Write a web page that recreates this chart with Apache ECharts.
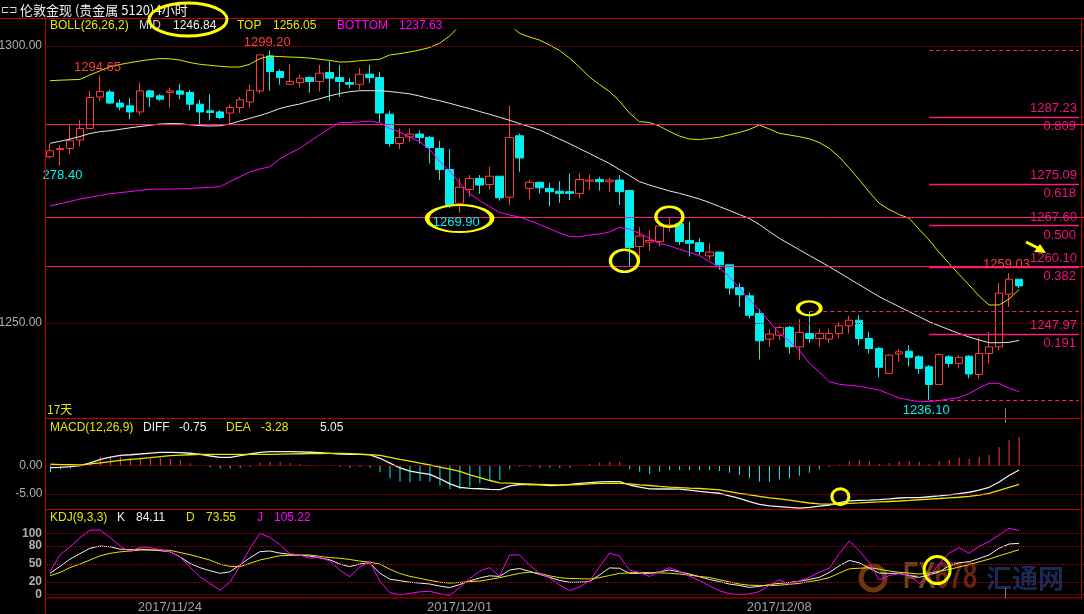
<!DOCTYPE html>
<html><head><meta charset="utf-8">
<script src="https://cdn.jsdelivr.net/npm/echarts@6/dist/echarts.min.js"></script>
<style>html,body{margin:0;padding:0;background:#000}#c{width:1084px;height:614px}</style>
</head><body><div id="c"></div>
<script>
// ---------- data ----------
const opens=[1280.0,1281.3,1281.5,1283.0,1285.1,1290.8,1291.7,1289.7,1289.2,1288.1,
1291.9,1291.0,1291.6,1291.9,1291.6,1289.5,1288.3,1288.1,1287.9,1288.9,
1289.9,1291.9,1298.2,1295.4,1293.1,1293.4,1294.3,1293.6,1295.2,1294.3,
1293.4,1293.1,1294.9,1294.3,1287.7,1282.4,1283.6,1284.1,1283.5,1281.5,
1277.7,1271.6,1274.1,1276.1,1275.0,1276.5,1272.7,1283.8,1274.3,1275.4,
1274.3,1273.8,1273.7,1273.4,1275.6,1275.9,1275.5,1275.8,1273.9,1263.8,
1264.6,1264.7,1267.5,1267.9,1264.9,1264.5,1262.1,1262.8,1260.5,1256.4,
1254.9,1251.7,1247.1,1247.8,1249.2,1245.7,1248.1,1247.2,1247.1,1248.1,
1249.5,1250.5,1247.2,1245.4,1240.9,1244.4,1244.9,1243.9,1242.1,1238.9,
1243.9,1242.7,1244.0,1240.7,1244.5,1245.7,1255.2,1257.9];
const closes=[1281.1,1281.5,1282.9,1285.1,1290.7,1291.8,1289.7,1289.0,1288.1,1291.9,
1290.8,1290.4,1291.9,1291.3,1289.5,1288.1,1288.0,1287.1,1288.9,1290.3,
1292.0,1298.4,1295.4,1294.3,1293.6,1294.2,1293.6,1295.1,1294.2,1293.6,
1293.1,1294.9,1294.3,1287.9,1282.4,1283.5,1284.1,1283.5,1281.7,1277.7,
1271.3,1274.5,1276.1,1274.9,1276.5,1272.6,1283.5,1279.8,1275.4,1274.4,
1273.7,1273.4,1273.4,1275.9,1275.8,1275.5,1275.8,1273.7,1263.6,1265.7,
1264.9,1267.5,1267.7,1264.7,1264.4,1262.9,1262.8,1260.5,1256.3,1255.1,
1251.4,1246.8,1248.0,1249.2,1245.7,1248.3,1247.2,1248.1,1248.1,1249.5,
1250.5,1247.2,1245.4,1242.0,1244.2,1244.8,1243.8,1241.8,1238.9,1244.3,
1242.7,1243.8,1240.8,1244.5,1245.7,1255.4,1257.9,1256.7];
const lows=[1279.7,1278.4,1280.5,1281.9,1285.1,1290.1,1289.5,1288.4,1286.8,1287.5,
1289.0,1290.1,1288.9,1290.4,1288.4,1285.9,1286.6,1286.8,1285.7,1287.9,
1288.9,1291.5,1291.9,1293.0,1293.0,1292.5,1291.6,1291.8,1290.1,1290.8,
1292.4,1292.1,1293.3,1286.3,1281.8,1281.4,1282.7,1282.4,1278.8,1275.8,
1270.8,1269.9,1272.8,1273.3,1274.1,1272.1,1271.3,1277.3,1272.3,1273.4,
1271.1,1271.7,1272.2,1272.5,1274.0,1273.9,1273.7,1271.3,1260.3,1261.1,
1263.0,1263.8,1266.5,1264.1,1262.0,1262.3,1261.5,1259.6,1255.1,1252.9,
1250.8,1243.4,1245.7,1246.9,1244.5,1243.3,1246.4,1245.7,1246.4,1247.2,
1248.1,1246.0,1244.5,1240.2,1240.9,1243.0,1242.1,1240.8,1236.1,1238.9,
1242.0,1241.8,1240.0,1240.0,1242.7,1245.1,1252.9,1256.3];
const highs=[1282.3,1282.1,1285.6,1286.6,1291.9,1294.65,1292.1,1290.4,1290.6,1293.4,
1292.1,1291.3,1292.5,1293.1,1292.1,1290.3,1291.3,1288.4,1289.4,1290.8,
1293.0,1298.4,1299.2,1295.8,1296.7,1294.8,1294.5,1296.6,1297.3,1296.6,
1294.2,1296.0,1296.6,1295.3,1288.3,1285.1,1285.1,1284.8,1283.8,1282.9,
1281.4,1276.1,1276.7,1276.7,1278.2,1276.5,1289.2,1284.2,1275.8,1275.5,
1275.3,1275.6,1277.0,1277.0,1276.8,1276.4,1276.2,1276.7,1273.9,1267.3,
1266.8,1268.3,1269.1,1267.9,1268.3,1265.3,1264.4,1262.8,1260.5,1257.2,
1255.5,1252.5,1248.9,1249.5,1249.5,1250.7,1252.0,1249.0,1249.0,1250.1,
1251.3,1251.4,1248.4,1245.7,1244.4,1245.3,1246.0,1244.2,1242.4,1244.5,
1244.2,1244.2,1244.2,1247.4,1248.4,1257.2,1259.03,1257.9];
const bollMid=[1282.44,1282.80,1283.21,1283.66,1284.21,1284.53,1284.71,1284.95,1285.23,1285.47,
1285.69,1285.92,1285.99,1285.99,1285.78,1285.63,1285.56,1285.61,1285.92,1286.46,
1286.95,1287.45,1288.03,1288.72,1289.17,1289.53,1290.02,1290.49,1291.01,1291.43,
1291.75,1291.93,1291.93,1291.93,1291.79,1291.59,1291.37,1290.97,1290.52,1290.13,
1289.66,1289.17,1288.72,1288.18,1287.67,1287.13,1286.59,1286.01,1285.42,1284.84,
1284.03,1283.21,1282.38,1281.48,1280.60,1279.69,1278.79,1277.71,1276.62,1275.51,
1274.91,1274.37,1273.83,1273.41,1272.92,1272.38,1271.75,1271.03,1270.31,1269.58,
1268.86,1267.78,1266.52,1265.29,1264.26,1263.23,1262.20,1261.19,1260.16,1259.08,
1258.00,1256.91,1255.83,1254.75,1253.84,1252.94,1252.04,1251.14,1250.23,1249.51,
1248.79,1248.10,1247.47,1246.93,1246.44,1246.44,1246.51,1246.84];
const bollTop=[1293.74,1293.83,1293.90,1293.97,1294.77,1295.52,1296.26,1296.66,1297.00,1297.29,
1297.55,1297.74,1297.69,1297.47,1297.02,1296.70,1296.52,1296.34,1296.21,1296.21,
1296.71,1297.71,1298.19,1298.10,1298.01,1297.94,1297.82,1297.60,1297.40,1297.11,
1297.15,1297.35,1297.47,1297.60,1298.38,1298.61,1298.92,1299.28,1299.73,1300.49,
1301.81,1303.61,1304.33,1304.69,1304.87,1304.69,1303.79,1302.29,1301.62,1301.08,
1300.18,1299.19,1297.83,1296.21,1294.40,1293.05,1291.79,1290.07,1287.91,1286.34,
1286.19,1285.56,1284.57,1283.75,1283.21,1283.12,1283.30,1283.52,1283.97,1284.39,
1284.93,1285.74,1285.02,1284.24,1283.94,1283.63,1283.25,1282.58,1281.53,1279.96,
1277.98,1275.88,1273.65,1271.61,1270.49,1269.58,1268.90,1266.91,1264.98,1262.73,
1260.74,1258.75,1256.86,1254.87,1253.25,1253.25,1254.33,1256.05];
const bollBottom=[1271.12,1271.53,1271.95,1272.38,1272.71,1273.01,1273.32,1273.54,1273.72,1273.94,
1274.13,1274.17,1274.19,1274.22,1274.28,1274.39,1274.49,1274.60,1275.51,1276.39,
1277.29,1277.80,1278.21,1279.60,1280.63,1281.53,1282.76,1283.99,1285.11,1286.19,
1286.19,1286.28,1286.43,1286.16,1285.14,1284.48,1283.57,1282.76,1281.32,1279.15,
1277.44,1275.27,1273.36,1272.11,1270.99,1269.95,1269.49,1269.13,1268.47,1267.78,
1267.02,1266.25,1265.61,1265.56,1265.88,1266.06,1266.43,1267.27,1266.97,1266.19,
1265.31,1264.35,1263.94,1263.30,1262.73,1262.18,1261.10,1260.02,1258.36,1256.32,
1254.15,1252.35,1250.27,1248.14,1246.75,1245.04,1242.78,1241.16,1239.40,1238.94,
1238.75,1238.56,1238.27,1237.91,1237.18,1236.46,1236.10,1235.79,1235.83,1236.01,
1236.28,1236.55,1237.27,1238.27,1239.12,1239.12,1238.21,1237.63];
const macdDiff=[-0.35,-0.29,-0.18,0.00,0.50,1.12,1.50,1.80,1.92,2.05,
2.20,2.32,2.33,2.30,2.18,1.98,1.70,1.47,1.47,1.75,
2.05,2.35,2.46,2.46,2.46,2.42,2.36,2.30,2.15,2.03,
2.00,2.00,1.90,1.30,0.45,-0.40,-0.95,-1.25,-1.51,-2.30,
-3.20,-3.80,-3.98,-4.05,-4.15,-4.20,-3.55,-3.30,-3.26,-3.35,
-3.50,-3.45,-3.30,-3.12,-2.98,-2.85,-2.81,-2.81,-3.39,-3.75,
-4.07,-4.09,-4.09,-4.10,-4.30,-4.50,-4.68,-4.84,-5.30,-5.75,
-6.30,-6.80,-7.05,-7.17,-7.30,-7.45,-7.30,-7.10,-6.90,-6.50,
-6.17,-6.10,-6.03,-5.95,-5.82,-5.67,-5.61,-5.60,-5.45,-5.30,
-5.13,-4.90,-4.66,-4.30,-3.79,-2.86,-1.73,-0.75];
const macdDea=[0.25,0.20,0.16,0.12,0.30,0.50,0.70,0.92,1.10,1.25,
1.40,1.58,1.75,1.85,1.92,1.97,2.00,2.00,2.00,2.00,
2.00,2.00,2.00,2.03,2.06,2.09,2.11,2.13,2.15,2.17,
2.12,2.03,1.94,1.80,1.45,1.10,0.80,0.45,0.12,-0.25,
-0.60,-0.98,-1.60,-2.10,-2.60,-3.00,-3.05,-3.15,-3.30,-3.30,
-3.33,-3.36,-3.38,-3.30,-3.20,-3.10,-3.09,-3.09,-3.20,-3.35,
-3.48,-3.62,-3.75,-3.84,-3.93,-4.00,-4.13,-4.26,-4.55,-4.85,
-5.10,-5.37,-5.63,-5.84,-6.05,-6.30,-6.55,-6.70,-6.75,-6.72,
-6.60,-6.52,-6.43,-6.36,-6.28,-6.20,-6.10,-5.98,-5.85,-5.76,
-5.65,-5.54,-5.38,-5.15,-4.86,-4.35,-3.80,-3.28];
const macdHist=[-1.16,-0.63,-0.46,0.10,0.70,1.58,1.58,1.58,1.29,1.40,
1.29,1.29,1.17,1.00,0.41,0.05,-0.29,-0.47,-0.47,-0.35,
-0.18,0.58,0.70,0.70,0.41,0.23,0.12,0.05,-0.05,-0.18,
-0.35,-0.18,-0.35,-1.16,-2.22,-2.81,-2.92,-2.69,-2.81,-3.51,
-4.09,-4.09,-3.68,-3.10,-2.51,-2.51,-0.63,-0.18,-0.18,-0.35,
-0.35,-0.35,-0.35,0.00,0.30,0.53,0.70,0.70,-0.58,-1.05,
-1.46,-1.05,-0.76,-0.76,-0.76,-0.76,-0.76,-0.93,-1.23,-1.64,
-2.10,-2.81,-2.81,-2.40,-2.22,-1.75,-1.23,-0.64,-0.18,0.15,
0.82,1.00,0.82,0.30,0.41,0.70,0.82,0.70,0.30,0.82,
1.00,1.40,1.17,1.58,1.87,3.23,4.50,5.05];
const kdjK=[34.6,46,58,67,75.9,79.7,78.5,74.5,73.5,74.5,
73.5,72,70.3,62,51,44,39,34.6,37,48.3,
60,70.3,71.5,68,66,64.9,63,60,57,50,
45.6,50,52,35,25,22.5,20,18.5,17,13.5,
11,16,22,27,30.5,29.5,40,42.5,38,33,
28,23,19.8,20,20.8,32,43.5,43,34.6,34.6,
34.6,37,40.1,37,33.5,29,24.5,21,17,14.5,
11.5,13,16,18,19.5,21.5,24.5,28,36,47,
56,52,43,35,34.6,34.6,31,28,32,37,
47,52,53.8,59,65,76,83,84.11];
const kdjD=[30.7,36,44,50,56.6,63.5,67.5,70,71.5,73,
73,73,72.6,69,65.5,61,56.6,50,46,45.6,
51,56.6,60,63.7,64.2,64.6,64.9,62.5,60.6,59.5,
57.5,54.8,53,50,41.5,34.5,29.7,26.5,23,20,
18.5,19.5,21,21.9,24.5,27.5,31,34.6,36.5,34.6,
30.5,27.5,26,25.8,25.4,27.5,31,34.6,35.3,36.2,
35.8,35.3,34.8,33.5,31.5,29.5,27.8,24,20.5,17,
15,14.7,14.3,15,16.5,18,21,23.5,27.5,35,
42,43,43.8,41.5,38.5,36.3,35,33.5,35,38,
41,45,49,53.5,58,63.5,68.5,73.55];
const kdjJ=[37.3,64.9,78.5,93,106,106.1,94,80,70,78,
77,74,70.3,62,45,29,18,7.1,20,46,
75,100.7,94,82,67,64.9,59.4,61,55,40,
29,45,53.8,22,3,-1.1,1.5,4,5,1,
-2,11,26,38,44,30,64.9,64.9,48,34.6,
27,15,6,12,22,45,68,63,40.1,36,
29.5,37,43.9,38,30,23,14,6,1,-0.5,
0.5,4.5,15,24,16.5,22,28,36,43,67,
88,72,52,24,31,34,31.8,18,30,50,
68,76.9,67.7,79,87,98,108.9,105.22];
const tickLabels=['2017/11/24','2017/12/01','2017/12/08'];
const tickAt=[12,41,73];
const slotCount=104;
const levelLines=[1285.87,1269.13,1260.2];
const fibPrices=[1287.23,1275.09,1267.60,1260.10,1247.97];
const fibRatios=['0.809','0.618','0.500','0.382','0.191'];
const dashLevels=[[88,1299.2],[88,1236.1],[76,1252.1]];

// ---------- styling ----------
const RED='#ff3c3c',CYAN='#00f0f0',YEL='#e6e600',MAG='#ff00ff',WHITE='#e8e8e8',PINK='#ff1a75',PINKT='#f0147a';
const GRIDRED='#b00000',FRAME='#c00000',AXT='#b0b0b0',F='Liberation Sans, Arial, sans-serif';
const ELL='path://M0 50A50 50 0 1 1 100 50A50 50 0 1 1 0 50Z';
const categories=Array.from({length:slotCount},(_,i)=>{const k=tickAt.indexOf(i);return k>=0?tickLabels[k]:('#'+i);});
const candles=opens.map((o,i)=>[o,closes[i],lows[i],highs[i]]);

function yLab(v,text,bold){return {yAxis:v,lineStyle:{color:GRIDRED,type:'dotted',width:1},
  label:{show:true,position:'start',formatter:text,color:AXT,fontSize:12,fontFamily:F,fontWeight:bold?'bold':'normal',distance:3}};}
const mainLines=[yLab(1300,'1300.00'),yLab(1250,'1250.00')];
levelLines.forEach(v=>mainLines.push({yAxis:v,lineStyle:{color:PINK,type:'solid',width:1},label:{show:false}}));
fibPrices.forEach((p,k)=>{
  const ls={color:PINK,type:'solid',width:1.3};
  const l1={show:true,position:'insideEndTop',formatter:p.toFixed(2),color:PINKT,fontSize:13,fontFamily:F,distance:2};
  mainLines.push([{coord:[88,p],lineStyle:ls,label:l1},{coord:[slotCount-1,p],lineStyle:ls,label:l1}]);
  const ls2={color:'rgba(0,0,0,0)',width:1};
  const l2={show:true,position:'insideEndBottom',formatter:fibRatios[k],color:PINKT,fontSize:13,fontFamily:F,distance:3};
  mainLines.push([{coord:[88,p],lineStyle:ls2,label:l2},{coord:[slotCount-1,p],lineStyle:ls2,label:l2}]);
});
dashLevels.forEach(([s,p])=>{
  const ls={color:PINK,type:[4,3],width:1.2};
  mainLines.push([{coord:[s,p],lineStyle:ls,label:{show:false}},{coord:[slotCount-1,p],lineStyle:ls,label:{show:false}}]);
});
function txt(i,v,t,c,off){return {coord:[i,v],symbol:'circle',symbolSize:1,itemStyle:{color:'rgba(0,0,0,0)'},
  label:{show:true,position:'inside',formatter:t,color:c,fontSize:13,fontFamily:F,offset:off}};}
function ell(i,v,size,off){return {coord:[i,v],symbol:ELL,symbolSize:size,symbolOffset:off||[0,0],
  itemStyle:{color:'rgba(0,0,0,0)',borderColor:'#ffff00',borderWidth:3},label:{show:false}};}

function T(x,y,text,fill,size,extra){return Object.assign({type:'text',x:x,y:y,z:20,
  style:{text:text,fill:fill,font:(size||12)+'px '+F,verticalAlign:'middle',align:'left'}},extra||{});}
function L(x1,y1,x2,y2,c,w){return {type:'line',z:15,shape:{x1:x1,y1:y1,x2:x2,y2:y2},style:{stroke:c||FRAME,lineWidth:w||1}};}

const graphics=[
  L(0,18.5,1084,18.5),L(45.5,18,45.5,614),L(1081.5,18,1081.5,598),
  L(45,418.5,1082,418.5),L(45,509.5,1082,509.5),L(45,598,1082,598),
  L(1005.5,408,1005.5,418,'#808080'),L(1005.5,588,1005.5,598,'#808080'),L(1005.5,419,1005.5,423,'#808080'),
  T(1,10,'⊏⊐','#d8d8d8',10),
  {type:'text',x:20,y:10,z:20,style:{text:'伦敦金现 (贵金属 5120)4小时',fill:'#f0f0f0',font:'13px "Noto Sans CJK SC", sans-serif',verticalAlign:'middle'}},
  T(50,26,'BOLL(26,26,2)',YEL),T(139,26,'MID','#d0d0d0'),T(173,26,'1246.84','#f0f0f0'),
  T(237,26,'TOP',YEL),T(273,26,'1256.05',YEL),T(337,26,'BOTTOM',MAG),T(399,26,'1237.63',MAG),
  {type:'ellipse',z:25,shape:{cx:188,cy:19.5,rx:39,ry:16.5},style:{fill:null,stroke:'#ffff00',lineWidth:3}},
  {type:'text',x:47,y:409,z:20,style:{text:'17天',fill:YEL,font:'12px "Noto Sans CJK SC", sans-serif',verticalAlign:'middle'}},
  T(50,428,'MACD(12,26,9)',YEL),T(143,428,'DIFF','#f0f0f0'),T(179,428,'-0.75','#f0f0f0'),
  T(226,428,'DEA',YEL),T(261,428,'-3.28',YEL),T(320,428,'5.05','#f0f0f0'),
  T(50,518,'KDJ(9,3,3)',YEL),T(117,518,'K','#f0f0f0'),T(136,518,'84.11','#f0f0f0'),
  T(186,518,'D',YEL),T(206,518,'73.55',YEL),T(257,518,'J',MAG),T(274,518,'105.22',MAG),
  {type:'polyline',z:25,shape:{points:[[1026,242],[1039,248.5]]},style:{stroke:'#ffff00',lineWidth:3}},
  {type:'polygon',z:25,shape:{points:[[1046,253],[1034,252],[1040,244]]},style:{fill:'#ffff00'}},
  {type:'circle',z:0,shape:{cx:873,cy:578,r:12},style:{fill:null,stroke:'rgba(150,80,25,0.7)',lineWidth:5}},
  {type:'text',z:0,x:903,y:578,scaleX:0.7,style:{text:'FX',fill:'rgba(125,80,30,0.85)',font:'bold 36px '+F,verticalAlign:'middle'}},
  {type:'text',z:0,x:935,y:578,scaleX:0.7,style:{text:'678',fill:'rgba(125,40,25,0.85)',font:'bold 36px '+F,verticalAlign:'middle'}},
  {type:'text',z:0,x:986,y:578,style:{text:'汇通网',fill:'rgba(30,45,95,0.9)',font:'bold 26px "Noto Sans CJK SC", sans-serif',verticalAlign:'middle'}}
];

function xAx(g,show){return {type:'category',gridIndex:g,data:categories,boundaryGap:true,
  axisLine:{show:false},axisTick:{show:false},splitLine:{show:false},
  axisLabel:{show:show,interval:(i)=>tickAt.includes(i),formatter:v=>v.charAt(0)==='#'?'':v,color:'#a0a0a0',fontSize:13,fontFamily:F,margin:3}};}
function ln(name,data,color,xi,extra){return Object.assign({type:'line',name:name,data:data,xAxisIndex:xi,yAxisIndex:xi,
  symbol:'none',lineStyle:{color:color,width:1},itemStyle:{color:color},silent:true,clip:true},extra||{});}

const option={
  backgroundColor:'#000',animation:false,
  grid:[{left:45,width:1040,top:30,height:388},{left:45.5,width:1040,top:419,height:90},{left:45,width:1040,top:510,height:88}],
  xAxis:[xAx(0,false),xAx(1,false),xAx(2,true)],
  yAxis:[{gridIndex:0,min:1232.85,max:1302.89,show:false,splitLine:{show:false}},
         {gridIndex:1,min:-7.6,max:8.19,show:false,splitLine:{show:false}},
         {gridIndex:2,min:-6.1,max:139.1,show:false,splitLine:{show:false}}],
  graphic:graphics,
  series:[
    {type:'candlestick',name:'K',data:candles,xAxisIndex:0,yAxisIndex:0,barWidth:8,silent:true,
     itemStyle:{color:'#000',color0:CYAN,borderColor:RED,borderColor0:CYAN,borderWidth:1},
     markLine:{symbol:['none','none'],silent:true,animation:false,data:mainLines},
     markPoint:{silent:true,animation:false,data:[
       txt(22,1299.2,'1299.20',RED,[-2.5,-8]),txt(5,1294.65,'1294.65',RED,[-2.5,-8.5]),
       txt(1,1278.4,'278.40',CYAN,[2.5,10]),txt(41,1269.9,'1269.90',CYAN,[-3.3,10]),
       txt(88,1236.1,'1236.10',CYAN,[-3,10.5]),txt(96,1259.03,'1259.03',RED,[-2.5,-9]),
       ell(41,1268.86,[65,27]),ell(58,1261.23,[28,22],[-5,0]),ell(62,1269.19,[27,20]),ell(76,1252.65,[23,14])
     ]}},
    ln('MID',bollMid,WHITE,0),ln('TOP',bollTop,YEL,0),ln('BOTTOM',bollBottom,MAG,0),
    {type:'bar',name:'MACD',data:macdHist,xAxisIndex:1,yAxisIndex:1,barWidth:1,silent:true,
     itemStyle:{color:(p)=>p.value>=0?RED:CYAN},
     markLine:{symbol:['none','none'],silent:true,animation:false,data:[yLab(0,'0.00'),yLab(-5,'-5.00')]}},
    ln('DIFF',macdDiff,'#f0f0f0',1,{lineStyle:{color:'#f0f0f0',width:1.3},
     markPoint:{silent:true,data:[ell(79,-5.44,[17,16],[1,0])]}}),
    ln('DEA',macdDea,YEL,1,{lineStyle:{color:YEL,width:1.3}}),
    ln('K',kdjK,'#f0f0f0',2,{markPoint:{silent:true,data:[ell(89,40.1,[26,27],[-2,0])]},
     markLine:{symbol:['none','none'],silent:true,animation:false,
       data:[yLab(100,'100',true),yLab(80,'80',true),yLab(50,'50',true),yLab(20,'20',true),yLab(0,'0',true)]}}),
    ln('D',kdjD,YEL,2),ln('J',kdjJ,MAG,2)
  ]
};
const chart=echarts.init(document.getElementById('c'));
chart.setOption(option);
</script></body></html>
